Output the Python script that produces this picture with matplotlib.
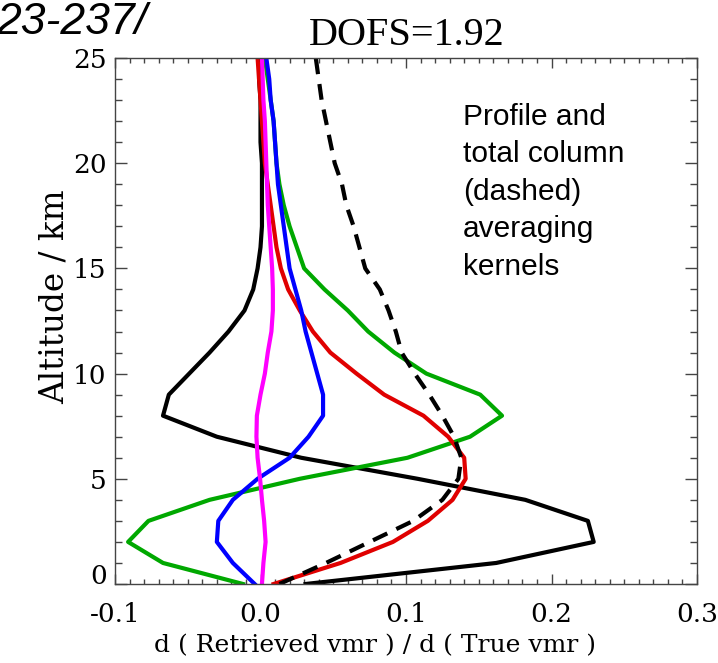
import numpy as np
import matplotlib
matplotlib.use("Agg")
import matplotlib.pyplot as plt
from matplotlib.ticker import MultipleLocator

# altitude grid (km) and averaging kernels
alt = np.arange(0, 26)

ak_black = [0.031, 0.162, 0.229, 0.225, 0.182, 0.108, 0.028, -0.030, -0.067, -0.063,
            -0.049, -0.035, -0.022, -0.011, -0.005, -0.002, 0.000, 0.001, 0.001, 0.001,
            0.001, 0.000, 0.000, 0.000, -0.001, -0.001]
ak_green = [-0.012, -0.067, -0.091, -0.077, -0.035, 0.027, 0.101, 0.144, 0.166, 0.151,
            0.114, 0.092, 0.074, 0.060, 0.044, 0.030, 0.025, 0.020, 0.016, 0.013,
            0.011, 0.010, 0.009, 0.007, 0.005, 0.003]
ak_red = [0.009, 0.055, 0.091, 0.115, 0.132, 0.141, 0.140, 0.129, 0.112, 0.085,
          0.066, 0.048, 0.036, 0.027, 0.019, 0.014, 0.011, 0.009, 0.007, 0.005,
          0.003, 0.002, 0.001, 0.000, -0.001, -0.002]
ak_blue = [-0.004, -0.019, -0.030, -0.029, -0.019, -0.002, 0.020, 0.033, 0.043, 0.043,
           0.039, 0.035, 0.031, 0.028, 0.024, 0.020, 0.018, 0.016, 0.014, 0.012,
           0.011, 0.010, 0.009, 0.007, 0.006, 0.004]
ak_magenta = [0.001, 0.002, 0.0035, 0.0025, 0.001, -0.0003, -0.002, -0.0028, -0.0025, 0.000,
              0.003, 0.005, 0.0075, 0.0085, 0.0085, 0.008, 0.007, 0.006, 0.005, 0.0045,
              0.004, 0.0035, 0.003, 0.002, 0.0015, 0.001]
ak_total = [0.013, 0.045, 0.075, 0.105, 0.125, 0.136, 0.138, 0.133, 0.125, 0.116,
            0.106, 0.097, 0.093, 0.088, 0.082, 0.072, 0.068, 0.064, 0.059, 0.056,
            0.051, 0.048, 0.045, 0.042, 0.040, 0.038]

xticks = [-0.1, 0.0, 0.1, 0.2, 0.3]
xticklabels = ["-0.1", "0.0", "0.1", "0.2", "0.3"]
yticks = [0, 5, 10, 15, 20, 25]

W, H = 718, 663
fig = plt.figure(figsize=(W / 100, H / 100), dpi=100)
ax = fig.add_axes([115 / W, 1 - 584 / H, (697 - 115) / W, (584 - 58) / H])

lw = 3.0
ax.plot(ak_black, alt, color="black", lw=lw)
ax.plot(ak_green, alt, color="#00a800", lw=lw)
ax.plot(ak_red, alt, color="#e00000", lw=lw)
ax.plot(ak_blue, alt, color="#0000ff", lw=lw)
ax.plot(ak_magenta, alt, color="#ff00ff", lw=lw)
ax.plot(ak_total, alt, color="black", lw=lw, dashes=(3.8, 2.4))

ax.set_xlim(-0.1, 0.3)
ax.set_ylim(0, 25)
ax.set_xticks(xticks)
ax.set_xticklabels(xticklabels)
ax.set_yticks(yticks)
ax.xaxis.set_minor_locator(MultipleLocator(0.01))
ax.yaxis.set_minor_locator(MultipleLocator(1))

for lab in ax.get_xticklabels() + ax.get_yticklabels():
    lab.set_fontfamily("DejaVu Serif")
    lab.set_fontsize(19)
ax.get_yticklabels()[0].set_verticalalignment("baseline")

ax.tick_params(which="both", direction="in", top=True, right=True, color="#444444", width=1)
ax.tick_params(axis="x", which="major", length=7, pad=13)
ax.tick_params(axis="x", which="minor", length=3.6)
ax.tick_params(axis="y", which="major", length=8.6, pad=6)
ax.tick_params(axis="y", which="minor", length=4.7)
for s in ax.spines.values():
    s.set_color("#444444")
    s.set_linewidth(1)

fig.text(375 / W, 1 - 652 / H, "d ( Retrieved vmr ) / d ( True vmr )",
         ha="center", va="baseline", fontsize=18, family="DejaVu Serif")
fig.text(55 / W, 1 - 297 / H, "Altitude / km", rotation=90,
         ha="center", va="center", fontsize=23.5, family="DejaVu Serif")
fig.text(407 / W, 1 - 45 / H, "DOFS=1.92", ha="center", va="baseline",
         fontsize=29, family="Liberation Serif")
fig.text(-4 / W, 1 - 34 / H, "23-237/", ha="left", va="baseline", fontsize=32,
         style="italic", family="Liberation Sans")
fig.text(463 / W, 1 - 103 / H, "Profile and\ntotal column\n(dashed)\naveraging\nkernels",
         ha="left", va="top", fontsize=21.5, linespacing=1.43, family="Liberation Sans")

fig.savefig("out.png", dpi=100)
